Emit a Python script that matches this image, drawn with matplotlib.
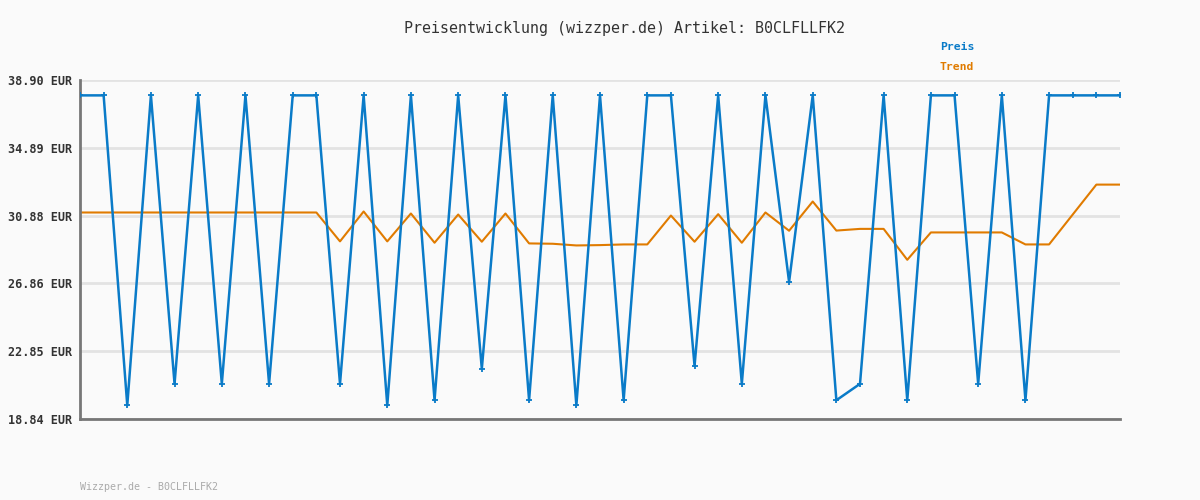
import matplotlib.pyplot as plt

# price samples (EUR), one per date step
preis = [37.99, 37.99, 19.65, 37.99, 20.92, 37.99, 20.92, 37.99, 20.92, 37.99,
         37.99, 20.92, 37.99, 19.65, 37.99, 19.95, 37.99, 21.81, 37.99, 19.95,
         37.99, 19.65, 37.99, 19.95, 37.99, 37.99, 21.98, 37.99, 20.92, 37.99,
         26.95, 37.99, 19.95, 20.92, 37.99, 19.95, 37.99, 37.99, 20.92, 37.99,
         19.95, 37.99, 37.99, 37.99, 37.99]

trend = [31.06, 31.06, 31.06, 31.06, 31.06, 31.06, 31.06, 31.06, 31.06, 31.06,
         31.06, 29.35, 31.12, 29.35, 31.00, 29.27, 30.94, 29.33, 31.00, 29.23,
         29.21, 29.11, 29.13, 29.17, 29.17, 30.88, 29.33, 30.96, 29.27, 31.06,
         29.98, 31.71, 29.99, 30.09, 30.09, 28.26, 29.88, 29.88, 29.88, 29.88,
         29.17, 29.17, 30.94, 32.71, 32.71]

yticks = [18.84, 22.85, 26.86, 30.88, 34.89, 38.90]
artikel = "B0CLFLLFK2"

blau = "#0a7bc8"
orange = "#e07b00"
mono = "DejaVu Sans Mono"

fig = plt.figure(figsize=(12, 5), dpi=100, facecolor="#fafafa")
ax = fig.add_axes([80 / 1200, 81 / 500, 1040 / 1200, 339 / 500])
ax.set_facecolor("#fafafa")

x = range(len(preis))
ax.plot(x, preis, color=blau, lw=1.8, marker="+", ms=4, mew=1.3, zorder=3)
ax.plot(x, trend, color=orange, lw=1.5, zorder=2)

ax.set_xlim(0, len(preis) - 1)
ax.set_ylim(yticks[0], yticks[-1])
ax.set_yticks(yticks)
ax.set_yticklabels([f"{v:.2f} EUR" for v in yticks], fontfamily=mono,
                   fontweight="bold", fontsize=8.5, color="#333333")
ax.set_xticks([])
ax.tick_params(axis="y", length=0, pad=6)
ax.grid(axis="y", color="#e3e3e3", lw=2)
ax.set_axisbelow(True)

for s in ["top", "right"]:
    ax.spines[s].set_visible(False)
for s in ["left", "bottom"]:
    ax.spines[s].set_color("#777777")
    ax.spines[s].set_linewidth(2)

fig.text(624 / 1200, 1 - 28 / 500, f"Preisentwicklung (wizzper.de) Artikel: {artikel}",
         ha="center", va="center", fontfamily=mono, fontsize=10.8, color="#333333")
fig.text(940 / 1200, 1 - 47 / 500, "Preis", ha="left", va="center",
         fontfamily=mono, fontweight="bold", fontsize=8.2, color=blau)
fig.text(940 / 1200, 1 - 67 / 500, "Trend", ha="left", va="center",
         fontfamily=mono, fontweight="bold", fontsize=8.2, color=orange)
fig.text(80 / 1200, 1 - 487 / 500, f"Wizzper.de - {artikel}", ha="left", va="center",
         fontfamily=mono, fontsize=7.2, color="#aaaaaa")

fig.savefig("out.png", dpi=100, facecolor=fig.get_facecolor())
